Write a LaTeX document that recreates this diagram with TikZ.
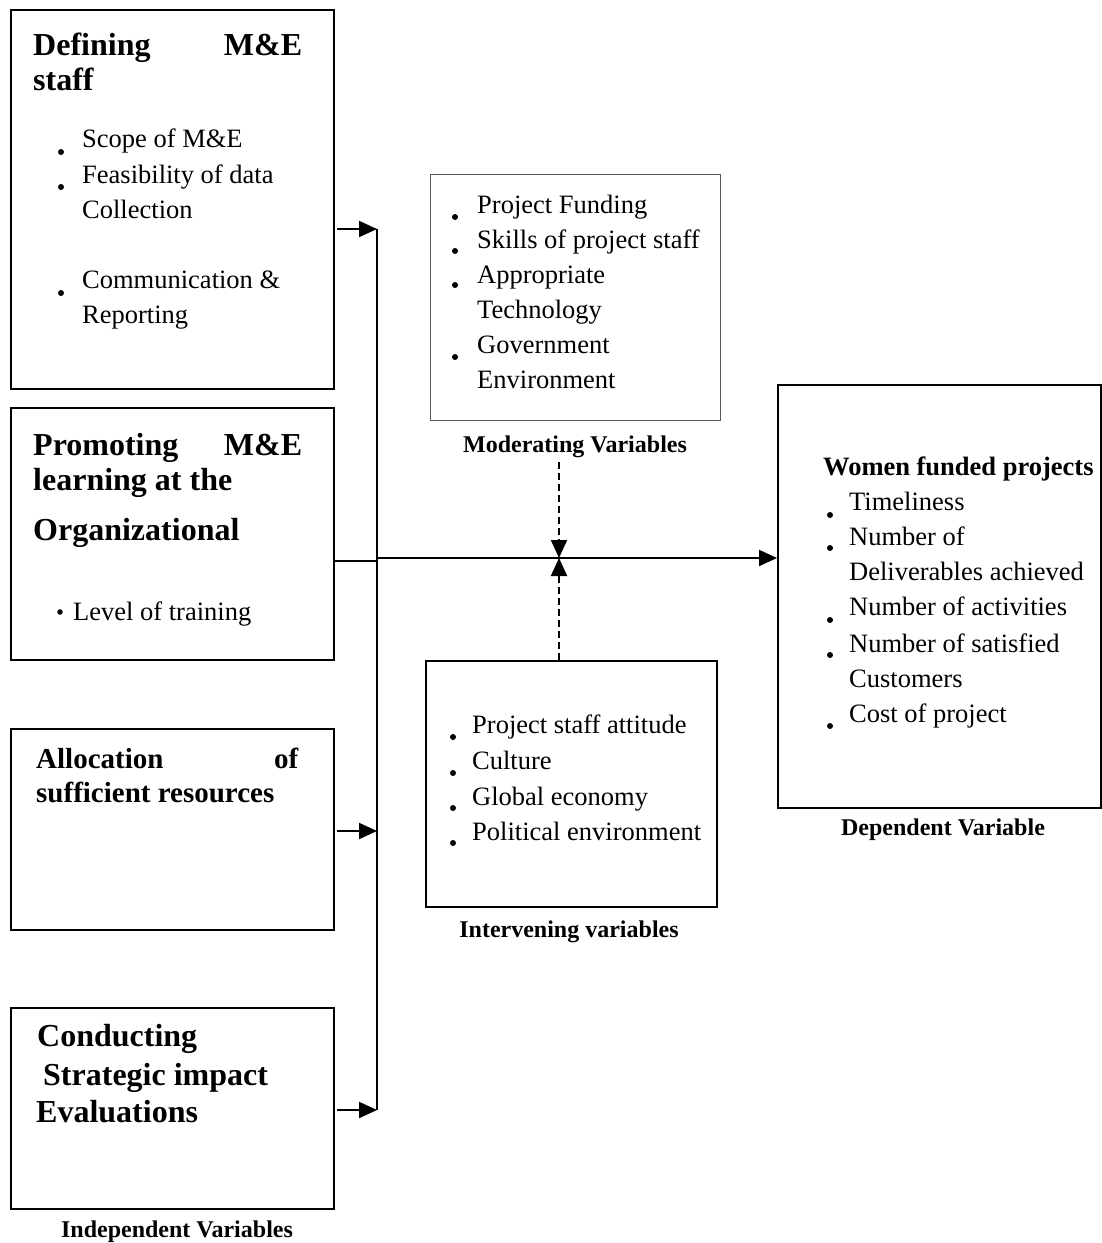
\documentclass[tikz,border=0pt]{standalone}
\usepackage{fontspec}
\setmainfont{Liberation Serif}
\usetikzlibrary{arrows.meta}
\newcommand\fbody{\fontsize{26.5}{35}\selectfont}
\newcommand\fhead{\bfseries\fontsize{32}{36}\selectfont}
\newcommand\fheadb{\bfseries\fontsize{29}{34}\selectfont}
\newcommand\flab{\bfseries\fontsize{24}{28}\selectfont}
\newcommand\fdep{\bfseries\fontsize{26.5}{35}\selectfont}
\begin{document}
\begin{tikzpicture}[x=1pt,y=-1pt,
  box/.style={draw=black, line width=1.8pt, rectangle, anchor=north west, inner sep=0pt},
  graybox/.style={draw=black!65, line width=1.2pt, rectangle, anchor=north west, inner sep=0pt},
  txt/.style={anchor=base west, inner sep=0pt, font=\fbody},
  head/.style={anchor=base west, inner sep=0pt, font=\fhead},
  headb/.style={anchor=base west, inner sep=0pt, font=\fheadb},
  lab/.style={anchor=base, inner sep=0pt, font=\flab},
  conn/.style={line width=2pt, -{Triangle[length=18pt,width=16pt]}},
  dconn/.style={line width=2pt, dash pattern=on 7pt off 4pt, -{Triangle[length=18pt,width=16pt]}},
  bul/.style={fill=black}
]
\useasboundingbox (0,0) rectangle (1102,1243);
\fill[white] (0,0) rectangle (1102,1243);

% boxes
\node[box, minimum width=323pt, minimum height=379pt] (b1) at (10,9) {};
\node[box, minimum width=323pt, minimum height=252pt] (b2) at (10,407) {};
\node[box, minimum width=323pt, minimum height=201pt] (b3) at (10,728) {};
\node[box, minimum width=323pt, minimum height=201pt] (b4) at (10,1007) {};
\node[graybox, minimum width=290pt, minimum height=246pt] (mod) at (430,174) {};
\node[box, minimum width=291pt, minimum height=246pt] (int) at (425,660) {};
\node[box, minimum width=323pt, minimum height=423pt] (dep) at (777,384) {};

% box 1
\node[head] (h1a) at (33,55) {\makebox[269pt][s]{Defining\hfill M\&E}};
\node[head] (h1b) at (33,90) {staff};
\node[txt] (t11) at (82,147) {Scope of M\&E};
\node[txt] (t12) at (82,183) {Feasibility of data};
\node[txt] (t13) at (82,218) {Collection};
\node[txt] (t14) at (82,288) {Communication \&};
\node[txt] (t15) at (82,323) {Reporting};
\foreach \yy in {152,187,293} \fill[bul] (61,\yy) circle[radius=3pt];

% box 2
\node[head] (h2a) at (33,455) {\makebox[269pt][s]{Promoting\hfill M\&E}};
\node[head] (h2b) at (33,490) {learning at the};
\node[head] (h2c) at (33,540) {Organizational};
\node[txt] (t21) at (73,620) {Level of training};
\fill[bul] (60,612) circle[radius=2.8pt];

% box 3
\node[headb] (h3a) at (36,768) {\makebox[262pt][s]{Allocation\hfill of}};
\node[headb] (h3b) at (36,802) {sufficient resources};

% box 4
\node[head] (h4a) at (37,1046) {Conducting};
\node[head] (h4b) at (43,1085) {Strategic impact};
\node[head] (h4c) at (36,1122) {Evaluations};

% moderating
\node[txt] (m1) at (477,213) {Project Funding};
\node[txt] (m2) at (477,248) {Skills of project staff};
\node[txt] (m3) at (477,283) {Appropriate};
\node[txt] (m4) at (477,318) {Technology};
\node[txt] (m5) at (477,353) {Government};
\node[txt] (m6) at (477,388) {Environment};
\foreach \yy in {217,251,285,357} \fill[bul] (455,\yy) circle[radius=3pt];
\node[lab] (lmod) at (575,452) {Moderating Variables};

% intervening
\node[txt] (i1) at (472,733) {Project staff attitude};
\node[txt] (i2) at (472,769) {Culture};
\node[txt] (i3) at (472,805) {Global economy};
\node[txt] (i4) at (472,840) {Political environment};
\foreach \yy in {737,773,808,843} \fill[bul] (453,\yy) circle[radius=3pt];
\node[lab] (lint) at (569,937) {Intervening variables};

% dependent
\node[anchor=base west, inner sep=0pt, font=\fdep] (d0) at (823,475) {Women funded projects};
\node[txt] (d1) at (849,510) {Timeliness};
\node[txt] (d2) at (849,545) {Number of};
\node[txt] (d3) at (849,580) {Deliverables achieved};
\node[txt] (d4) at (849,615) {Number of activities};
\node[txt] (d5) at (849,652) {Number of satisfied};
\node[txt] (d6) at (849,687) {Customers};
\node[txt] (d7) at (849,722) {Cost of project};
\foreach \yy in {515,548,620,655,726} \fill[bul] (830,\yy) circle[radius=3pt];
\node[lab] (ldep) at (943,835) {Dependent Variable};

\node[lab] (lind) at (177,1237) {Independent Variables};

% connectors
\coordinate (j1) at (377,229);
\coordinate (j2) at (377,561);
\coordinate (j3) at (377,831);
\coordinate (j4) at (377,1110);
\coordinate (jm) at (377,558);
\coordinate (hub) at (559,558);
\coordinate (dtop) at (559,462);

\draw[line width=1.6pt] (j1) -- (j4);
\draw[conn] ([xshift=2pt]b1.east |- j1) -- (j1);
\draw[conn] ([xshift=2pt]b3.east |- j3) -- (j3);
\draw[conn] ([xshift=2pt]b4.east |- j4) -- (j4);
\draw[line width=1.2pt] (b2.east |- j2) -- (j2);
\draw[conn] (jm) -- (dep.west |- jm);
\draw[dconn] (dtop) -- (hub);
\draw[dconn] (int.north -| hub) -- (hub);
\end{tikzpicture}
\end{document}
